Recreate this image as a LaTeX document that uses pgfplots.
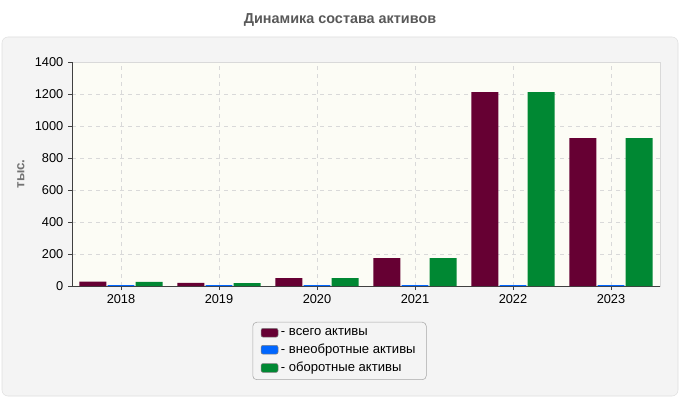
\documentclass[border=0pt]{standalone}
\usepackage{pgfplots}
\pgfplotsset{compat=1.18}
\usepackage{fontspec}
\setmainfont{Liberation Sans}
\definecolor{tot}{HTML}{660033}
\definecolor{nca}{HTML}{0066FF}
\definecolor{ca}{HTML}{008833}
\definecolor{panel}{HTML}{F4F4F4}
\definecolor{plotbg}{HTML}{FCFCF5}

\begin{document}
\begin{tikzpicture}
% canvas 680x400 px, 1px = 0.75pt
\path[fill=white] (0pt,0pt) rectangle (510pt,300pt);
\draw[fill=panel, draw=black!12, rounded corners=4.5pt] (1.5pt,3pt) rectangle (508.5pt,272.25pt);
\node[font=\bfseries\fontsize{10.8}{12}\selectfont, text=black!65] at (255pt,285pt) {Динамика состава активов};
\begin{axis}[
    at={(54pt,85.5pt)}, anchor=south west,
    scale only axis, width=441pt, height=168pt,
    ymin=0, ymax=1400, ytick={0,200,...,1400},
    xmin=-0.5, xmax=5.5, xtick={0,...,5},
    xticklabels={2018,2019,2020,2021,2022,2023},
    ybar=0pt, bar width=0.275,
    axis x line*=bottom, axis y line*=left,
    axis line style={black!75},
    axis background/.style={fill=plotbg, draw=black!15},
    grid=major, major grid style={dashed, black!15},
    tick align=outside, major tick length=3pt, tick style={black!75},
    ticklabel style={font=\fontsize{9.6}{10}\selectfont},
    /pgf/number format/assume math mode=true,
    /pgf/number format/set thousands separator={},
    ylabel={тыс.},
    ylabel style={font=\bfseries\fontsize{10}{11}\selectfont, text=black!55,
        at={(axis description cs:-0.087,0.5)}, anchor=center},
    legend style={at={(axis description cs:0.455,-0.29)}, anchor=center,
        draw=black!35, rounded corners=3pt, fill=panel,
        font=\fontsize{9.8}{11}\selectfont, row sep=1pt,
        inner xsep=6pt, inner ysep=2.5pt},
    legend cell align=left,
    legend image code/.code={\draw[#1, draw=black!50, rounded corners=1.5pt] (0pt,-3.3pt) rectangle (12.75pt,3.3pt);},
]
\addplot[fill=tot, draw=none, bar shift=-0.286] coordinates {
    (0,27) (1,19) (2,50) (3,175) (4,1212) (5,925)
};
\addplot[fill=nca, draw=none, bar shift=0] coordinates {
    (0,5) (1,5) (2,5) (3,5) (4,5) (5,5)
};
\addplot[fill=ca, draw=none, bar shift=0.286] coordinates {
    (0,26) (1,18) (2,49) (3,174) (4,1211) (5,924)
};
\legend{- всего активы, - внеобротные активы, - оборотные активы}
\end{axis}
\end{tikzpicture}
\end{document}
